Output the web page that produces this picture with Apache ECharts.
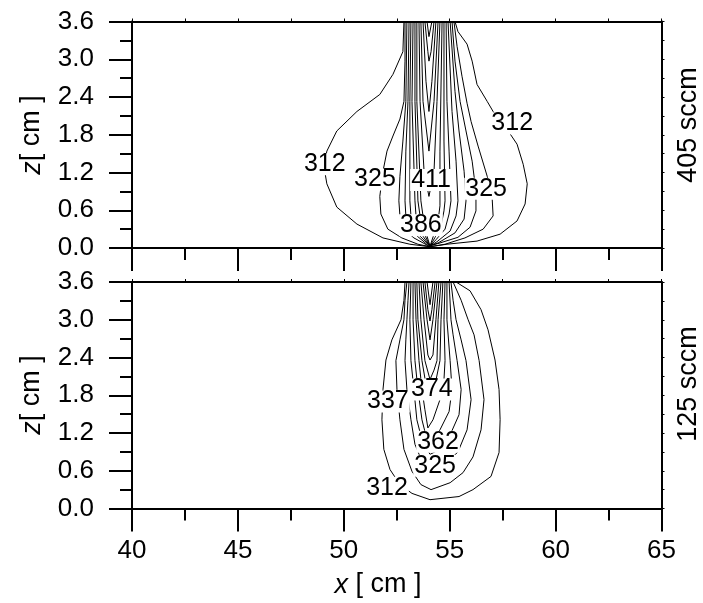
<!DOCTYPE html>
<html>
<head>
<meta charset="utf-8">
<script src="https://cdn.jsdelivr.net/npm/echarts/dist/echarts.min.js"></script>
<style>html,body{margin:0;padding:0;background:#fff}#c{width:703px;height:603px}</style>
</head>
<body>
<div id="c"></div>
<script>
// ---- axis ranges / ticks ----
const xRange = [40, 65];
const xStep = 5;
const zRange = [0, 3.6];
const zStep = 0.6;
const panelNames = ['405 sccm', '125 sccm'];

// ---- contour lines, 405 sccm panel: [x (cm), z (cm)] ----
const t312 = [[52.84,3.60],[52.79,3.12],[52.32,2.76],[51.70,2.44],[50.62,2.17],[49.67,1.86],[49.20,1.54],[49.06,1.30],[49.20,1.02],[49.67,0.65],[50.62,0.38],[51.85,0.16],[53.12,0.06],[54.07,0.02],[54.87,0.06],[56.29,0.11],[57.38,0.22],[58.18,0.43],[58.56,0.70],[58.66,1.02],[58.47,1.33],[58.18,1.65],[57.62,1.93],[57.05,2.17],[56.77,2.33],[56.29,2.60],[56.06,2.97],[55.82,3.24],[55.39,3.44],[55.25,3.60]];
const t325 = [[52.89,3.60],[52.89,2.97],[52.84,2.33],[52.65,2.05],[52.32,1.78],[52.04,1.54],[51.85,1.22],[51.70,0.82],[51.75,0.54],[52.08,0.30],[52.74,0.16],[53.50,0.06],[54.07,0.02],[54.78,0.06],[55.72,0.16],[56.58,0.30],[57.05,0.51],[57.00,0.82],[56.77,1.14],[56.34,1.62],[56.01,2.01],[55.82,2.30],[55.58,2.73],[55.35,3.20],[55.20,3.60]];
const t337 = [[52.98,3.60],[52.93,2.33],[52.79,1.70],[52.65,1.14],[52.60,0.75],[52.65,0.51],[52.84,0.30],[53.31,0.16],[54.02,0.03],[54.54,0.08],[55.39,0.17],[55.96,0.33],[56.24,0.59],[56.24,0.90],[56.06,1.38],[55.77,1.86],[55.49,2.33],[55.25,2.97],[55.11,3.60]];
const t349 = [[53.08,3.60],[53.03,2.33],[52.93,1.54],[52.89,0.75],[52.93,0.51],[53.08,0.30],[54.02,0.03],[54.45,0.08],[55.25,0.24],[55.68,0.46],[55.77,0.75],[55.68,1.22],[55.44,1.86],[55.25,2.49],[55.02,3.60]];
const t362 = [[53.17,3.60],[53.12,2.33],[53.12,0.75],[53.17,0.51],[53.27,0.30],[54.07,0.03],[54.40,0.10],[55.02,0.27],[55.30,0.51],[55.39,0.75],[55.30,1.38],[55.11,2.17],[54.92,3.60]];
const t374 = [[53.27,3.60],[53.22,2.33],[53.36,0.75],[53.41,0.51],[53.50,0.30],[54.07,0.03],[54.35,0.13],[54.78,0.30],[54.97,0.54],[55.06,0.75],[54.97,1.54],[54.87,2.33],[54.83,3.60]];
const t386 = [[53.36,3.60],[53.36,2.33],[53.50,0.75],[53.60,0.51],[53.69,0.30],[54.07,0.03],[54.31,0.17],[54.59,0.35],[54.73,0.59],[54.78,0.75],[54.73,1.70],[54.73,3.60]];
const t399 = [[53.45,3.60],[53.45,2.33],[53.64,0.75],[53.74,0.51],[53.83,0.30],[54.07,0.03],[54.26,0.22],[54.45,0.43],[54.54,0.67],[54.54,1.54],[54.64,3.60]];
const t411 = [[53.55,3.60],[53.60,2.33],[53.79,1.22],[54.02,0.82],[54.26,1.22],[54.40,2.33],[54.54,3.60]];
const t423 = [[53.64,3.60],[53.74,2.33],[54.02,1.54],[54.26,2.33],[54.45,3.60]];
const t436 = [[53.74,3.60],[53.88,2.65],[54.02,2.17],[54.16,2.65],[54.35,3.60]];
const t448 = [[53.83,3.60],[53.97,3.12],[54.02,2.97],[54.12,3.12],[54.26,3.60]];
const t460 = [[53.93,3.60],[54.02,3.36],[54.16,3.60]];

// ---- contour lines, 125 sccm panel ----
const b312 = [[52.89,3.60],[52.84,3.31],[52.70,3.00],[52.27,2.68],[51.99,2.36],[51.85,1.89],[51.80,1.41],[51.89,0.94],[52.18,0.62],[52.65,0.38],[53.22,0.24],[54.07,0.14],[55.44,0.19],[56.10,0.30],[56.95,0.51],[57.33,0.89],[57.38,1.41],[57.33,1.89],[57.14,2.36],[56.81,2.84],[56.48,3.16],[55.96,3.46],[55.30,3.60]];
const b325 = [[52.98,3.60],[52.89,3.31],[52.84,3.00],[52.65,2.68],[52.46,2.35],[52.51,1.89],[52.65,1.41],[52.84,0.94],[53.22,0.59],[53.64,0.38],[54.12,0.30],[55.02,0.41],[55.63,0.57],[56.10,0.82],[56.48,1.25],[56.62,1.73],[56.39,2.35],[56.15,2.76],[55.87,3.00],[55.54,3.31],[55.16,3.60]];
const b337 = [[53.08,3.60],[53.03,3.31],[52.98,3.00],[52.93,2.68],[52.89,2.35],[52.98,1.89],[53.17,1.41],[53.36,1.02],[53.69,0.75],[54.07,0.59],[54.78,0.70],[55.39,0.90],[55.82,1.25],[56.01,1.73],[55.77,2.35],[55.54,2.68],[55.30,3.00],[55.16,3.31],[55.06,3.60]];
const b349 = [[53.17,3.60],[53.12,3.00],[53.17,2.35],[53.31,1.89],[53.45,1.41],[53.69,1.09],[54.07,0.86],[54.54,0.94],[55.02,1.17],[55.44,1.49],[55.54,1.89],[55.35,2.35],[55.16,2.76],[55.06,3.00],[54.97,3.60]];
const b362 = [[53.27,3.60],[53.27,3.00],[53.36,2.35],[53.50,1.89],[53.69,1.41],[53.93,1.09],[54.12,1.05],[54.54,1.25],[54.97,1.54],[55.11,1.89],[55.02,2.35],[54.87,3.00],[54.87,3.60]];
const b374 = [[53.36,3.60],[53.41,3.00],[53.55,2.35],[53.69,1.89],[53.83,1.57],[53.97,1.28],[54.21,1.41],[54.54,1.73],[54.73,2.05],[54.78,2.35],[54.73,3.00],[54.78,3.60]];
const b386 = [[53.45,3.60],[53.50,3.00],[53.69,2.35],[53.88,1.97],[54.02,1.73],[54.31,1.97],[54.54,2.35],[54.59,3.00],[54.68,3.60]];
const b399 = [[53.55,3.60],[53.64,3.00],[53.83,2.35],[54.07,2.05],[54.26,2.20],[54.40,2.35],[54.45,3.00],[54.59,3.60]];
const b411 = [[53.64,3.60],[53.79,3.00],[53.97,2.44],[54.07,2.36],[54.21,2.44],[54.35,3.00],[54.49,3.60]];
const b423 = [[53.74,3.60],[53.93,3.00],[54.07,2.68],[54.21,3.00],[54.40,3.60]];
const b436 = [[53.83,3.60],[53.97,3.16],[54.07,2.98],[54.16,3.16],[54.31,3.60]];
const b448 = [[53.93,3.60],[54.07,3.24],[54.21,3.60]];

// ---- contour labels: [text, x, z] ----
const labels405 = [['312',49.10,1.33],['325',51.47,1.09],['411',54.12,1.08],['325',56.72,0.94],['386',53.64,0.36],['312',57.95,1.98]];
const labels125 = [['337',52.08,1.70],['374',54.16,1.89],['362',54.45,1.06],['325',54.31,0.68],['312',52.04,0.33]];

const contours405 = [t312,t325,t337,t349,t362,t374,t386,t399,t411,t423,t436,t448,t460];
const contours125 = [b312,b325,b337,b349,b362,b374,b386,b399,b411,b423,b436,b448];

// ---- build chart ----
const FONT = 'Liberation Sans';
const BLACK = '#000';
const gridLeft = 132, gridWidth = 529.5, gridH = 226.5;
const grids = [
  {left: gridLeft, top: 21.5, width: gridWidth, height: gridH},
  {left: gridLeft, top: 282, width: gridWidth, height: gridH}
];

function xBottom(g, showLabels) {
  return {
    type: 'value', gridIndex: g, position: 'bottom', min: xRange[0], max: xRange[1], interval: xStep,
    axisLine: {show: true, onZero: false, lineStyle: {color: BLACK, width: 2}},
    axisTick: {show: true, inside: false, length: 23, lineStyle: {color: BLACK, width: 2}},
    minorTick: {show: true, splitNumber: 2, length: 12, lineStyle: {color: BLACK, width: 2}},
    splitLine: {show: false},
    axisLabel: {show: showLabels, margin: 29, color: BLACK, fontSize: 26, fontFamily: FONT, formatter: v => String(v)}
  };
}
function xTop(g) {
  return {
    type: 'value', gridIndex: g, position: 'top', min: xRange[0], max: xRange[1], interval: xStep / 2,
    axisLine: {show: true, onZero: false, lineStyle: {color: BLACK, width: 2}},
    axisTick: {show: true, inside: false, length: 3, lineStyle: {color: BLACK, width: 1}},
    splitLine: {show: false}, axisLabel: {show: false}
  };
}
function yLeft(g) {
  return {
    type: 'value', gridIndex: g, position: 'left', min: zRange[0], max: zRange[1], interval: zStep,
    axisLine: {show: true, onZero: false, lineStyle: {color: BLACK, width: 2}},
    axisTick: {show: true, inside: false, length: 23, lineStyle: {color: BLACK, width: 2}},
    minorTick: {show: true, splitNumber: 2, length: 12, lineStyle: {color: BLACK, width: 2}},
    splitLine: {show: false},
    axisLabel: {show: true, margin: 38, color: BLACK, fontSize: 26, fontFamily: FONT, formatter: v => v.toFixed(1)}
  };
}
function yRight(g) {
  return {
    type: 'value', gridIndex: g, position: 'right', min: zRange[0], max: zRange[1], interval: zStep / 2,
    axisLine: {show: true, onZero: false, lineStyle: {color: BLACK, width: 2}},
    axisTick: {show: true, inside: false, length: 3, lineStyle: {color: BLACK, width: 1}},
    splitLine: {show: false}, axisLabel: {show: false}
  };
}

const series = [];
function addPanel(contours, labels, xi, yi) {
  contours.forEach(c => series.push({
    type: 'line', xAxisIndex: xi, yAxisIndex: yi, data: c, symbol: 'none', smooth: false,
    lineStyle: {color: BLACK, width: 1}, silent: true, animation: false, z: 2
  }));
  series.push({
    type: 'scatter', xAxisIndex: xi, yAxisIndex: yi, symbolSize: 0,
    itemStyle: {color: '#fff', opacity: 0}, silent: true, animation: false, z: 5,
    data: labels.map(l => ({name: l[0], value: [l[1], l[2]]})),
    label: {show: true, position: 'inside', formatter: '{b}', color: BLACK, opacity: 1,
      textBorderWidth: 0, textBorderColor: 'transparent', fontSize: 25, fontFamily: FONT,
      backgroundColor: '#fff', padding: [0, 1], lineHeight: 22}
  });
}
addPanel(contours405, labels405, 0, 0);
addPanel(contours125, labels125, 2, 2);

const nameFont = 27;
function rotText(x, y, rich) {
  return {
    type: 'text', x: x, y: y, rotation: Math.PI / 2, silent: true,
    style: {text: rich, align: 'center', verticalAlign: 'middle', fill: BLACK, fontSize: nameFont, fontFamily: FONT,
      rich: {i: {fontStyle: 'italic', fontSize: nameFont, fontFamily: FONT, fill: BLACK},
              n: {fontSize: nameFont, fontFamily: FONT, fill: BLACK}}}
  };
}

const option = {
  backgroundColor: '#fff',
  animation: false,
  grid: grids,
  xAxis: [xBottom(0, false), xTop(0), xBottom(1, true), xTop(1)],
  yAxis: [yLeft(0), yRight(0), yLeft(1), yRight(1)],
  series: series,
  graphic: [
    rotText(32, 135, '{i|z}{n|[ cm ]}'),
    rotText(32, 395, '{i|z}{n|[ cm ]}'),
    rotText(689, 125, '{n|' + panelNames[0] + '}'),
    rotText(689, 384, '{n|' + panelNames[1] + '}'),
    {type: 'text', x: 378, y: 585, silent: true,
      style: {text: '{i|x}{n| [ cm ]}', align: 'center', verticalAlign: 'middle', fill: BLACK, fontSize: nameFont, fontFamily: FONT,
        rich: {i: {fontStyle: 'italic', fontSize: nameFont, fontFamily: FONT, fill: BLACK},
               n: {fontSize: nameFont, fontFamily: FONT, fill: BLACK}}}}
  ]
};

const chart = echarts.init(document.getElementById('c'), null, {renderer: 'canvas'});
chart.setOption(option);
</script>
</body>
</html>
